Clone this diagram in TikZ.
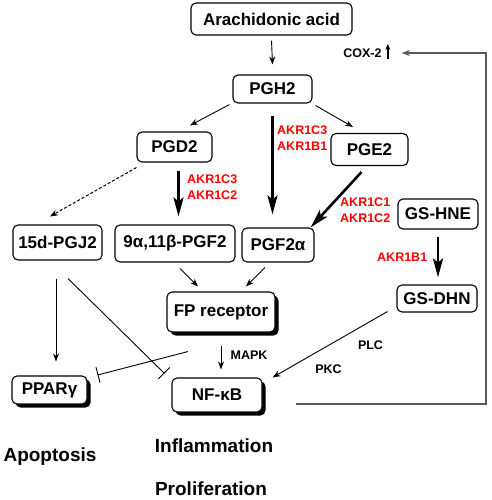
\documentclass[tikz,border=0pt]{standalone}
\usepackage{fontspec}
\setmainfont{Liberation Sans}
\usetikzlibrary{arrows.meta, positioning, calc, shadows}

\begin{document}
\begin{tikzpicture}[x=1pt, y=-1pt,
    box/.style={draw, rounded corners=5pt, line width=1.1pt, inner sep=0pt, font=\bfseries\fontsize{17}{20}\selectfont},
    shadowbox/.style={box, fill=white, drop shadow={shadow xshift=3.5pt, shadow yshift=-3.5pt, fill=black, opacity=1}},
    enzyme/.style={text=red, font=\bfseries\fontsize{12.5}{16}\selectfont, align=left, anchor=west, inner sep=0pt},
    tag/.style={font=\bfseries\fontsize{12.5}{15}\selectfont, inner sep=0pt},
    outcome/.style={font=\bfseries\fontsize{19}{22}\selectfont, inner sep=0pt},
    flow/.style={line width=0.9pt, -{Stealth[length=8pt, width=6pt]}},
    heavy/.style={line width=2.6pt, -{Stealth[length=19pt, width=10pt, inset=4pt]}},
    inhib/.style={line width=0.9pt, -{Bar[width=16pt]}},
    feedback/.style={draw=black!65, line width=1.6pt, -{Stealth[length=8pt, width=6pt]}}
]
    \useasboundingbox (0,0) rectangle (491,500);
    % Boxes
    \node[box, minimum width=161pt, minimum height=32pt] (arach) at (271.5,19) {Arachidonic acid};
    \node[box, minimum width=79pt, minimum height=28pt] (pgh2) at (272.5,89) {PGH2};
    \node[box, minimum width=75pt, minimum height=30pt] (pgd2) at (174.5,147) {PGD2};
    \node[box, minimum width=77pt, minimum height=32pt] (pge2) at (369.5,149.5) {PGE2};
    \node[box, minimum width=89pt, minimum height=35pt] (pgj2) at (57.5,242.5) {15d-PGJ2};
    \node[box, minimum width=120pt, minimum height=37pt] (pgf9) at (175,243.5) {9α,11β-PGF2};
    \node[box, minimum width=72pt, minimum height=34pt] (pgfa) at (278,245) {PGF2α};
    \node[box, minimum width=80pt, minimum height=30pt] (gshne) at (438,214) {GS-HNE};
    \node[box, minimum width=80pt, minimum height=27pt] (gsdhn) at (437,298.5) {GS-DHN};
    \node[shadowbox, minimum width=108pt, minimum height=40pt] (fp) at (221,312) {FP receptor};
    \node[shadowbox, minimum width=75pt, minimum height=28pt] (ppar) at (49.5,390) {PPARγ};
    \node[shadowbox, minimum width=90pt, minimum height=34pt] (nfkb) at (217,395) {NF-κB};
    % Enzymes
    \node[enzyme] (akrA) at (277,138.5) {AKR1C3\\AKR1B1};
    \node[enzyme] (akrB) at (187,187.5) {AKR1C3\\AKR1C2};
    \node[enzyme] (akrC) at (340,210.5) {AKR1C1\\AKR1C2};
    \node[enzyme] (akrD) at (377,257) {AKR1B1};
    % Small labels
    \node[tag] (cox) at (362.5,53) {COX-2};
    \node[tag] (mapk) at (249,355) {MAPK};
    \node[tag] (plc) at (370.5,345) {PLC};
    \node[tag] (pkc) at (328.5,369) {PKC};
    % Outcomes
    \node[outcome] (infl) at (214,446) {Inflammation};
    \node[outcome] (prol) at (211,489) {Proliferation};
    \node[outcome] (apop) at (50,457) {Apoptosis};
    % Pathway
    \draw[flow] ($(arach.south)+(0,5)$) -- ($(pgh2.north)+(0,-10)$);
    \draw[flow] ($(pgh2.south west)+(-3,1)$) -- ($(pgd2.north)+(15.5,-6)$);
    \draw[flow] ($(pgh2.south east)+(3,2)$) -- ($(pge2.north)+(-16.5,-6)$);
    \draw[heavy] ($(pgh2.south)+(0,12)$) -- ($(pgh2.south |- pgfa.north)+(0,-13)$);
    \draw[line width=1pt, dash pattern=on 3pt off 2pt, -{Stealth[length=8pt, width=6pt]}] ($(pgd2.south west)+(0,5)$) -- ($(pgj2.north)+(-7.5,-8)$);
    \draw[heavy] ($(pgd2.south)+(4,8)$) -- ($(pgd2.south |- pgf9.north)+(4,-8)$);
    \draw[heavy] ($(pge2.south)+(-8,6)$) -- ($(pgfa.north east)+(-4,0)$);
    \draw[heavy] ($(gshne.south)+(0,7)$) -- ($(gshne.south |- gsdhn.north)+(0,-7)$);
    \draw[flow] ($(pgf9.south)+(5,6)$) -- ($(fp.north)+(-23,-5)$);
    \draw[flow] ($(pgfa.south)+(-13,5)$) -- ($(fp.north)+(25,-5)$);
    \draw[flow] ($(pgj2.south)+(-1.5,18)$) -- ($(pgj2.south |- ppar.north)+(-1.5,-14)$);
    \draw[inhib] ($(pgj2.south)+(10.5,18)$) -- ($(nfkb.north west)+(-7,-4)$);
    \draw[inhib] ($(fp.south)+(-33,19)$) -- ($(ppar.east)+(10,-15)$);
    \draw[flow] ($(fp.south)+(0,13)$) -- ($(fp.south |- nfkb.north)+(0,-8)$);
    \draw[flow] ($(gsdhn.south west)+(-9,-1)$) -- ($(nfkb.north east)+(10,0)$);
    % Feedback to COX-2
    \draw[line width=1.6pt, -{Stealth[length=6pt, width=5pt]}] ($(cox.east)+(6,6)$) -- ($(cox.east)+(6,-9)$);
    \draw[feedback] ($(nfkb.east)+(33,9)$) -| ($(cox.east)+(104,0)$) -- ($(cox.east)+(20,0)$);
\end{tikzpicture}
\end{document}
